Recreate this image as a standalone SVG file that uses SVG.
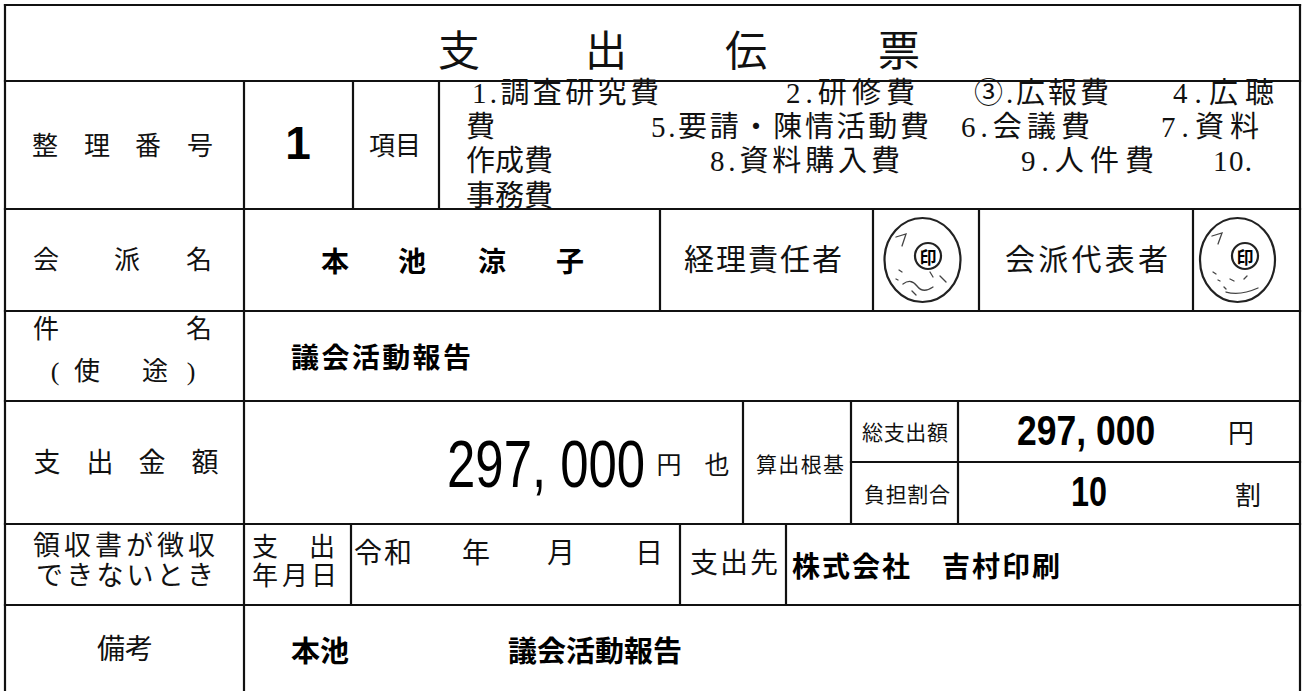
<svg xmlns="http://www.w3.org/2000/svg" width="1306" height="691" viewBox="0 0 1306 691">
<style>
.bg{fill:#fff}
.ln{stroke:#111;stroke-width:2.2;fill:none;stroke-linecap:square}
.m{font-family:"Liberation Serif","Noto Sans CJK JP",serif;font-weight:400;fill:#111;dominant-baseline:central}
.s{font-family:"Noto Sans CJK JP",sans-serif;font-weight:400;fill:#111;dominant-baseline:central}
.b{font-family:"Noto Sans CJK JP",sans-serif;font-weight:700;fill:#000;dominant-baseline:central}
.n{font-family:"Liberation Sans",Arial,sans-serif;fill:#000;dominant-baseline:central}
.mid{text-anchor:middle}
.stamp{fill:none;stroke:#222;stroke-width:2.2}
.mark{fill:none;stroke:#444;stroke-width:1.3;stroke-linecap:round}
</style>
<rect class="bg" x="0" y="0" width="1306" height="691"/>
<g id="grid">
<path class="ln" d="M5 5H1300M5 81H1300M5 209H1300M5 311H1300M5 401H1300M851 462H1300M5 524H1300M5 605H1300"/>
<path class="ln" d="M5 5V691M1300 5V691M244 81V691M353 81V209M439 81V209M660 209V311M873 209V311M979 209V311M1193 209V311M743 401V524M851 401V524M958 401V524M351 524V605M680 524V605M786 524V605"/>
</g>
<g id="title">
<text class="s mid" font-size="42" x="459 532 606 676 746 822 899" y="47">支 出 伝 票</text>
</g>
<g id="row-number">
<text class="m mid" font-size="26" x="45 71 97 122 148 174 200" y="146">整 理 番 号</text>
<text class="n mid" font-size="46" font-weight="700" x="298" y="143">1</text>
<text class="m mid" font-size="26" x="395" y="146">項目</text>
</g>
<g id="row-items" class="m" font-size="29">
<text x="472" y="93" textLength="187" lengthAdjust="spacing">1.調査研究費</text>
<text x="786" y="93" textLength="129" lengthAdjust="spacing">2.研修費</text>
<text x="974" y="93" textLength="135" lengthAdjust="spacing">③.広報費</text>
<text x="1173" y="93" textLength="101" lengthAdjust="spacing">4.広聴</text>
<text x="466" y="127">費</text>
<text x="651" y="127" textLength="278" lengthAdjust="spacing">5.要請・陳情活動費</text>
<text x="961" y="127" textLength="129" lengthAdjust="spacing">6.会議費</text>
<text x="1161" y="127" textLength="98" lengthAdjust="spacing">7.資料</text>
<text x="466" y="161">作成費</text>
<text x="710" y="161" textLength="190" lengthAdjust="spacing">8.資料購入費</text>
<text x="1021" y="161" textLength="133" lengthAdjust="spacing">9.人件費</text>
<text x="1213" y="161" textLength="39" lengthAdjust="spacing">10.</text>
<text x="466" y="196">事務費</text>
</g>
<g id="row-faction">
<text class="m mid" font-size="26" x="46 86 127 163 199" y="260">会 派 名</text>
<text class="b mid" font-size="28" x="335 373 412 452 492 531 570" y="260">本 池 涼 子</text>
<text class="m" font-size="30" x="684" y="259" textLength="158" lengthAdjust="spacing">経理責任者</text>
<text class="m" font-size="30" x="1005" y="259" textLength="163" lengthAdjust="spacing">会派代表者</text>
</g>
<g id="stamp-1">
<ellipse class="stamp" cx="922.5" cy="260" rx="38" ry="42"/>
<circle class="stamp" cx="928" cy="256" r="13"/>
<text class="b mid" font-size="17" x="928" y="256">印</text>
<path class="mark" d="M896 237 L906 234 L902 246 M899 270 l3 2 M896 279 l2 1 M903 284 q8 -6 14 2 q6 8 16 1 M912 291 l4 4 M940 276 l6 6 M930 272 l3 5"/>
</g>
<g id="stamp-2">
<ellipse class="stamp" cx="1237.5" cy="260" rx="37.5" ry="42"/>
<circle class="stamp" cx="1245" cy="256" r="13"/>
<text class="b mid" font-size="17" x="1245" y="256">印</text>
<path class="mark" d="M1212 236 L1222 233 L1218 244 M1213 272 l3 2 M1218 280 l2 1 M1226 292 q14 4 32 -4 M1230 279 l4 2 M1244 279 l3 -3 M1224 287 l2 2"/>
</g>
<g id="row-subject">
<text class="m mid" font-size="26" x="46 122 199" y="329">件 名</text>
<text class="m mid" font-size="26" x="55 70 87 121 155 173 191" y="371">( 使 途 )</text>
<text class="b" font-size="28" x="291" y="356" textLength="180" lengthAdjust="spacing">議会活動報告</text>
</g>
<g id="row-amount">
<text class="m mid" font-size="27" x="47 73 100 126 152 178 205" y="463">支 出 金 額</text>
<text class="n" font-size="67" transform="translate(447 464) scale(0.76 1)">297, 000</text>
<text class="s mid" font-size="25" x="669 717" y="463">円也</text>
<text class="s" font-size="21" x="756" y="463" textLength="88" lengthAdjust="spacing">算出根基</text>
<text class="s" font-size="21" x="862" y="431" textLength="86" lengthAdjust="spacing">総支出額</text>
<text class="s" font-size="21" x="864" y="493" textLength="86" lengthAdjust="spacing">負担割合</text>
<text class="n" font-size="42" font-weight="700" transform="translate(1017 430) scale(0.845 1)">297, 000</text>
<text class="s mid" font-size="26" x="1241" y="431">円</text>
<text class="n mid" font-size="42" font-weight="700" transform="translate(1089 491) scale(0.77 1)">10</text>
<text class="s mid" font-size="26" x="1248" y="493">割</text>
</g>
<g id="row-receipt">
<text class="m" font-size="27" x="33" y="546" textLength="182" lengthAdjust="spacing">領収書が徴収</text>
<text class="m" font-size="27" x="36" y="576" textLength="178" lengthAdjust="spacing">できないとき</text>
<text class="m mid" font-size="26" x="265 294 322" y="547">支 出</text>
<text class="m mid" font-size="26" x="265 295 324" y="576">年月日</text>
<text class="m mid" font-size="28" x="368 398 437 476 518 561 605 649" y="553">令和 年 月 日</text>
<text class="m" font-size="28" x="690" y="563" textLength="88" lengthAdjust="spacing">支出先</text>
<text class="b" font-size="28" x="792" y="565" textLength="268" lengthAdjust="spacing">株式会社　吉村印刷</text>
</g>
<g id="row-remarks">
<text class="m mid" font-size="28" x="125" y="649">備考</text>
<text class="b" font-size="29" x="291" y="649">本池</text>
<text class="b" font-size="29" x="508" y="649" textLength="174" lengthAdjust="spacing">議会活動報告</text>
</g>
</svg>
